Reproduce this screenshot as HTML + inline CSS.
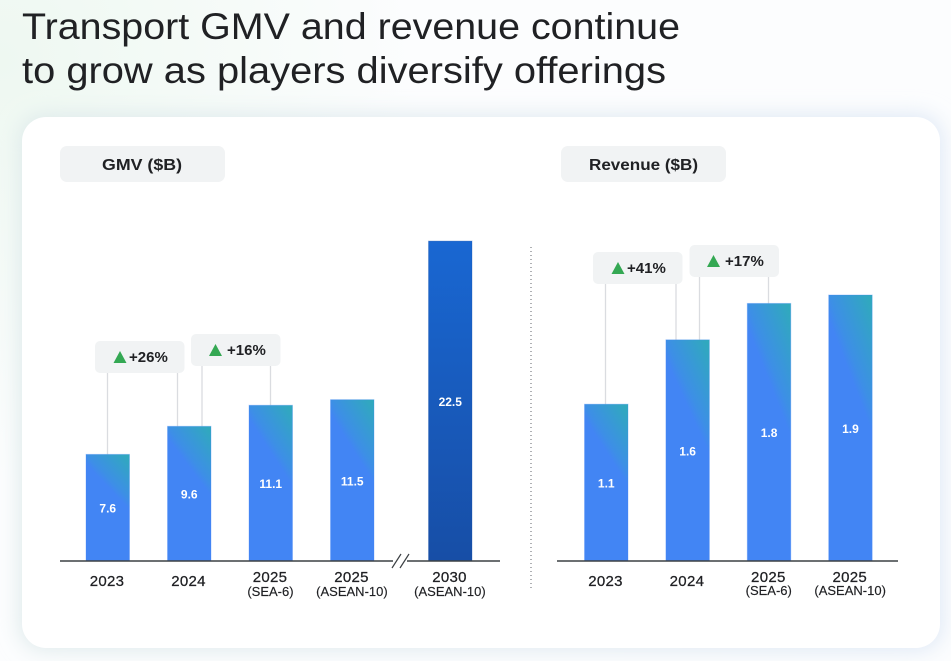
<!DOCTYPE html>
<html lang="en">
<head>
<meta charset="utf-8">
<title>Transport GMV and revenue</title>
<style>
  html, body { margin: 0; padding: 0; }
  body { width: 951px; height: 661px; overflow: hidden; background: #fff; font-family: "Liberation Sans", sans-serif; }
  #chart-root { display: block; }
  text { font-family: "Liberation Sans", sans-serif; fill: #202124; }
</style>
</head>
<body>
<svg id="chart-root" xmlns="http://www.w3.org/2000/svg" width="951" height="661" viewBox="0 0 951 661">
  <defs>
    <radialGradient id="bg-mint" gradientUnits="userSpaceOnUse" cx="0" cy="60" r="420">
      <stop offset="0" stop-color="#eef8f1"/>
      <stop offset="1" stop-color="#fcfdfe"/>
    </radialGradient>
    <linearGradient id="shadow-grad" x1="0" y1="0" x2="1" y2="0">
      <stop offset="0" stop-color="#dde9ea"/>
      <stop offset="0.5" stop-color="#e0e9ef"/>
      <stop offset="1" stop-color="#dde7f5"/>
    </linearGradient>
    <linearGradient id="bar-grad" x1="0.35" y1="0.7" x2="0.704" y2="-0.126">
      <stop offset="0" stop-color="#4285f4"/>
      <stop offset="0.47" stop-color="#4285f4"/>
      <stop offset="0.56" stop-color="#3d8fe6"/>
      <stop offset="1" stop-color="#2fabba"/>
    </linearGradient>
    <linearGradient id="bar-dark-grad" x1="0" y1="0" x2="0" y2="1">
      <stop offset="0" stop-color="#1967d2"/>
      <stop offset="1" stop-color="#174ea6"/>
    </linearGradient>
    <filter id="card-shadow" x="-8%" y="-12%" width="116%" height="124%">
      <feGaussianBlur stdDeviation="11"/>
    </filter>
  </defs>
  <rect x="0" y="0" width="951" height="661" fill="url(#bg-mint)"/>
  <text x="22" y="39" font-size="37" textLength="658" lengthAdjust="spacingAndGlyphs">Transport GMV and revenue continue</text>
  <text x="22" y="83" font-size="37" textLength="644" lengthAdjust="spacingAndGlyphs">to grow as players diversify offerings</text>
  <rect x="20" y="115" width="922" height="535" rx="24" fill="url(#shadow-grad)" filter="url(#card-shadow)"/>
  <rect x="22" y="117" width="918" height="531" rx="24" fill="#ffffff"/>

  <rect x="60" y="146" width="165" height="36" rx="7" fill="#f1f3f4"/>
  <text x="102" y="170" font-size="16" font-weight="700" textLength="80" lengthAdjust="spacingAndGlyphs">GMV ($B)</text>
  <rect x="561" y="146" width="165" height="36" rx="7" fill="#f1f3f4"/>
  <text x="589" y="170" font-size="16" font-weight="700" textLength="109" lengthAdjust="spacingAndGlyphs">Revenue ($B)</text>

  <line x1="531" y1="247" x2="531" y2="590" stroke="#5f6368" stroke-width="1" stroke-dasharray="1 3"/>

  <g id="gmv-chart"></g>
  <g id="revenue-chart"></g>

  <line x1="60" y1="561" x2="393" y2="561" stroke="#3c4043" stroke-width="1.5"/>
  <line x1="407" y1="561" x2="500" y2="561" stroke="#3c4043" stroke-width="1.5"/>
  <line x1="392" y1="568" x2="401" y2="554" stroke="#3c4043" stroke-width="1.2"/>
  <line x1="400" y1="568" x2="409" y2="554" stroke="#3c4043" stroke-width="1.2"/>
  <line x1="557" y1="561" x2="898" y2="561" stroke="#3c4043" stroke-width="1.5"/>
</svg>

<script>
// GMV chart data
const gmvYears = ["2023", "2024", "2025", "2025", "2030"];
const gmvRegions = ["", "", "(SEA-6)", "(ASEAN-10)", "(ASEAN-10)"];
const gmvValues = [7.6, 9.6, 11.1, 11.5, 22.5];
const gmvGrowth = ["+26%", "+16%"];

// Revenue chart data
const revenueYears = ["2023", "2024", "2025", "2025"];
const revenueRegions = ["", "", "(SEA-6)", "(ASEAN-10)"];
const revenueValues = [1.12, 1.58, 1.84, 1.90];
const revenueGrowth = ["+41%", "+17%"];

const SVG_NS = "http://www.w3.org/2000/svg";
const BASELINE = 561;
const BAR_WIDTH = 43.5;

function make(tag, attrs, parent) {
  const node = document.createElementNS(SVG_NS, tag);
  for (const key in attrs) node.setAttribute(key, attrs[key]);
  parent.appendChild(node);
  return node;
}

// Axis functions
function gmvHeight(v) {
  // the axis is broken between the near-term years and 2030
  return v <= 11.5 ? v * 14.03 : 161.3 + (v - 11.5) * 14.42;
}
function gmvX(i) {
  return [86, 167.5, 249, 330.5, 428.5][i];
}
function revenueHeight(v) {
  return v * 140;
}
function revenueX(i) {
  return 584.5 + i * 81.4;
}

function drawChart(host, prefix, cfg) {
  const tops = cfg.values.map(v => BASELINE - cfg.height(v));

  // connector lines run from callouts down to bar tops
  cfg.callouts.forEach((c, k) => {
    [[c.lineA, c.barA], [c.lineB, c.barB]].forEach(pair => {
      const conn = make("line", { x1: pair[0], x2: pair[0], y1: c.y + 32, y2: tops[pair[1]], stroke: "#dadce0", "stroke-width": 1.3 }, host);
      
      
    });
  });

  // bars and value labels
  cfg.values.forEach((v, i) => {
    const x = cfg.x(i);
    const isDark = cfg.dark === i;
    const bar = make("rect", { x: x, y: tops[i], width: BAR_WIDTH, height: BASELINE - tops[i], fill: isDark ? "url(#bar-dark-grad)" : "url(#bar-grad)", stroke: isDark ? "rgba(23,78,166,0.3)" : "rgba(66,133,244,0.3)", "stroke-width": 1 }, host);
    
    

    const val = make("text", { x: x + BAR_WIDTH / 2, y: (tops[i] + BASELINE) / 2 + 5, "font-size": 12, "font-weight": 700, "text-anchor": "middle", style: "fill:#ffffff" }, host);
    
    
    val.textContent = v.toFixed(1);

    const hasRegion = cfg.regions[i] !== "";
    const year = make("text", { x: x + BAR_WIDTH / 2 - 0.7, y: hasRegion ? cfg.yearY : 586, "font-size": 15, "letter-spacing": 0.3, "text-anchor": "middle", stroke: "#202124", "stroke-width": 0.25 }, host);
    
    
    year.textContent = cfg.years[i];

    if (hasRegion) {
      const region = make("text", { x: x + BAR_WIDTH / 2 - 0.3, y: cfg.regionY, "font-size": 13, "text-anchor": "middle", stroke: "#202124", "stroke-width": 0.15 }, host);
      
      
      region.textContent = cfg.regions[i];
    }
  });

  // growth callouts
  cfg.callouts.forEach((c, k) => {
    const pill = make("rect", { x: c.x, y: c.y, width: 89.5, height: 32, rx: 5, fill: "#f1f3f4" }, host);
    
    

    const tx = c.x + c.arrowDx, ty = c.y + 16;
    const tri = make("polygon", { points: (tx - 6.5) + "," + (ty + 6) + " " + (tx + 6.5) + "," + (ty + 6) + " " + tx + "," + (ty - 6), fill: "#34a853" }, host);
    
    

    const label = make("text", { x: c.x + c.textDx, y: c.y + 21, "font-size": 15, "font-weight": 700 }, host);
    
    
    label.textContent = cfg.growth[k];
  });
}

drawChart(document.getElementById("gmv-chart"), "gmv", {
  values: gmvValues, years: gmvYears, regions: gmvRegions, growth: gmvGrowth,
  height: gmvHeight, x: gmvX, dark: 4, yearY: 582, regionY: 596,
  callouts: [
    { x: 95, y: 341, lineA: 107.5, barA: 0, lineB: 177.5, barB: 1, arrowDx: 25, textDx: 34 },
    { x: 191, y: 334, lineA: 202, barA: 1, lineB: 270.5, barB: 2, arrowDx: 24.5, textDx: 36 }
  ]
});

drawChart(document.getElementById("revenue-chart"), "revenue", {
  values: revenueValues, years: revenueYears, regions: revenueRegions, growth: revenueGrowth,
  height: revenueHeight, x: revenueX, dark: -1, yearY: 582, regionY: 595,
  callouts: [
    { x: 593, y: 252, lineA: 605.5, barA: 0, lineB: 676, barB: 1, arrowDx: 25, textDx: 34 },
    { x: 689.5, y: 245, lineA: 699.5, barA: 1, lineB: 768.5, barB: 2, arrowDx: 24, textDx: 35.5 }
  ]
});
</script>
</body>
</html>
